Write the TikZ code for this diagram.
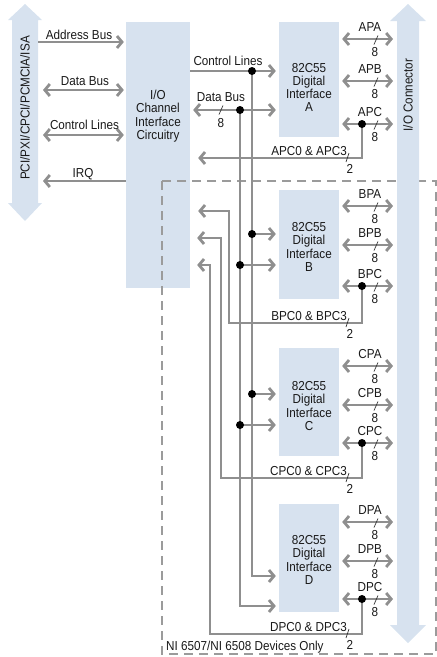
\documentclass[tikz,border=0pt]{standalone}
\usepackage{fontspec}
\setmainfont{Liberation Sans}[FakeStretch=0.9]
\usetikzlibrary{arrows.meta}

\definecolor{busblue}{HTML}{D7E2EF}
\definecolor{wiregray}{HTML}{8F8F8F}
\definecolor{dashgray}{HTML}{9B9B9B}
\newcommand{\diagfont}{\fontsize{13}{13.3}\selectfont}

\begin{document}
\begin{tikzpicture}[x=1pt,y=-1pt,font=\diagfont,text=black!90,
  barb/.tip={Straight Barb[length=5pt,width=12pt,line width=2.8pt]},
  wire/.style={draw=wiregray,line width=1.9pt},
  tor/.style={wire,-barb},
  both/.style={wire,barb-barb},
  port/.style={both,shorten <=3pt,shorten >=4pt},
  blk/.style={fill=busblue,inner sep=0pt},
  chip/.style={blk,minimum width=60pt},
  txt/.style={align=center,inner sep=0pt},
  lbl/.style={anchor=base,inner sep=0pt},
  dot/.style={circle,fill=black,inner sep=0pt,minimum size=8pt},
  tick/.style={draw=black!80,line width=0.7pt}]
  \useasboundingbox (0,0) rectangle (437,657);

  % boxes
  \node[blk,minimum width=64pt,minimum height=266pt] (ioc) at (158,155) {};
  \node[txt] (ioctxt) at (158,116) {I/O\\Channel\\Interface\\Circuitry};
  \node[chip,minimum height=115pt] (dA) at (309,79.5) {};
  \node[chip,minimum height=109pt] (dB) at (309,244.5) {};
  \node[chip,minimum height=108pt] (dC) at (309,402) {};
  \node[chip,minimum height=108pt] (dD) at (309,558) {};
  \node[txt] (dAtxt) at (309,87.5) {82C55\\Digital\\Interface\\A};
  \node[txt] (dBtxt) at (309,247) {82C55\\Digital\\Interface\\B};
  \node[txt] (dCtxt) at (309,406) {82C55\\Digital\\Interface\\C};
  \node[txt] (dDtxt) at (309,560) {82C55\\Digital\\Interface\\D};

  % optional devices
  \draw[dashgray,line width=1.6pt,dash pattern=on 9pt off 6pt] (162,181) rectangle (436,654);
  \node[lbl,anchor=base west] (optlbl) at (166,650) {NI 6507/NI 6508 Devices Only};

  % bus arrows
  \fill[busblue] (25,4) -- (42,20) -- (38,20) -- (38,203) -- (42,203) -- (25,221)
    -- (8,203) -- (12,203) -- (12,20) -- (8,20) -- cycle;
  \node[rotate=90] (hostlbl) at (25,108) {PCI/PXI/CPCI/PCMCIA/ISA};
  \fill[busblue] (408,4) -- (426,21) -- (419,21) -- (419,625) -- (426,625) -- (408,643)
    -- (390,625) -- (397,625) -- (397,21) -- (390,21) -- cycle;
  \node[rotate=90] (conlbl) at (408,95) {I/O Connector};
  \coordinate (hostE) at (38,0);
  \coordinate (conW) at (397,0);

  % host side
  \draw[tor,shorten >=2pt] (hostE |- 0,42) -- (ioc.west |- 0,42);
  \draw[both,shorten <=5pt,shorten >=2pt] (hostE |- 0,90) -- (ioc.west |- 0,90);
  \draw[both,shorten <=5pt,shorten >=2pt] (hostE |- 0,135) -- (ioc.west |- 0,135);
  \draw[tor,shorten >=5pt] (ioc.west |- 0,181) -- (hostE |- 0,181);
  \node[lbl] (adrlbl) at (79,39) {Address Bus};
  \node[lbl] (datlbl) at (85,85) {Data Bus};
  \node[lbl] (ctllbl) at (84.5,129) {Control Lines};
  \node[lbl] (irqlbl) at (83,177) {IRQ};

  % local buses
  \coordinate (cA) at (252,71);
  \coordinate (cB) at (252,234);
  \coordinate (cC) at (252,394);
  \coordinate (bA) at (240,110);
  \coordinate (bB) at (240,265);
  \coordinate (bC) at (240,425);
  \draw[tor,shorten >=3pt] (ioc.east |- cA) -- (dA.west |- cA);
  \draw[both,shorten <=3pt,shorten >=3pt] (ioc.east |- bA) -- (dA.west |- bA);
  \node[lbl] (lctl) at (228,65) {Control Lines};
  \node[lbl] (ldat) at (221,101.5) {Data Bus};
  \draw[tick] (219,114.5) -- (223,105.5);
  \node[lbl] (ndat) at (221,127) {8};
  \draw[tor,shorten >=3pt] (cA) |- (dD.west |- 0,576);
  \draw[tor,shorten >=3pt] (bA) |- (dD.west |- 0,606);
  \draw[tor,shorten >=3pt] (cB) -- (dB.west |- cB);
  \draw[tor,shorten >=3pt] (bB) -- (dB.west |- bB);
  \draw[tor,shorten >=3pt] (cC) -- (dC.west |- cC);
  \draw[tor,shorten >=3pt] (bC) -- (dC.west |- bC);

  % port C taps
  \coordinate (pA) at (362,124);
  \coordinate (pB) at (362,286);
  \coordinate (pC) at (362,443);
  \coordinate (pD) at (362,599);
  \draw[tor,shorten >=8pt] (pA) |- (ioc.east |- 0,158);
  \draw[tor,shorten >=8pt] (pB) |- (229,323) |- (ioc.east |- 0,211);
  \draw[tor,shorten >=7pt] (pC) |- (221,478) |- (ioc.east |- 0,238);
  \draw[tor,shorten >=7pt] (pD) |- (210,634) |- (ioc.east |- 0,265);
  \node[lbl,anchor=base east] (lApc) at (347,155) {APC0 \& APC3};
  \node[lbl,anchor=base east] (lBpc) at (347,320) {BPC0 \& BPC3};
  \node[lbl,anchor=base east] (lCpc) at (347,475) {CPC0 \& CPC3};
  \node[lbl,anchor=base east] (lDpc) at (347,631) {DPC0 \& DPC3};
  \draw[tick] (346,162) -- (349,153);
  \draw[tick] (346,327) -- (349,318);
  \draw[tick] (346,482) -- (349,473);
  \draw[tick] (346,638) -- (349,629);
  \node[lbl] (nApc) at (350,173) {2};
  \node[lbl] (nBpc) at (350,338) {2};
  \node[lbl] (nCpc) at (350,493) {2};
  \node[lbl] (nDpc) at (350,649) {2};

  % ports A
  \draw[port] (dA.east |- 0,39) -- (conW |- 0,39);
  \draw[port] (dA.east |- 0,81) -- (conW |- 0,81);
  \draw[port] (dA.east |- pA) -- (conW |- pA);
  \node[lbl] (lApa) at (370,31.5) {APA};
  \node[lbl] (lApb) at (370,73.5) {APB};
  \node[lbl] (lApcp) at (370,116.5) {APC};
  \draw[tick] (374,44.5) -- (378,35.5);
  \draw[tick] (374,86.5) -- (378,77.5);
  \draw[tick] (374,129.5) -- (378,120.5);
  \node[lbl] (nApa) at (375,56) {8};
  \node[lbl] (nApb) at (375,98) {8};
  \node[lbl] (nApcp) at (375,141) {8};

  % ports B
  \draw[port] (dB.east |- 0,206) -- (conW |- 0,206);
  \draw[port] (dB.east |- 0,245) -- (conW |- 0,245);
  \draw[port] (dB.east |- pB) -- (conW |- pB);
  \node[lbl] (lBpa) at (370,198.5) {BPA};
  \node[lbl] (lBpb) at (370,237.5) {BPB};
  \node[lbl] (lBpcp) at (370,278.5) {BPC};
  \draw[tick] (374,211.5) -- (378,202.5);
  \draw[tick] (374,250.5) -- (378,241.5);
  \draw[tick] (374,291.5) -- (378,282.5);
  \node[lbl] (nBpa) at (375,223) {8};
  \node[lbl] (nBpb) at (375,262) {8};
  \node[lbl] (nBpcp) at (375,303) {8};

  % ports C
  \draw[port] (dC.east |- 0,366) -- (conW |- 0,366);
  \draw[port] (dC.east |- 0,405) -- (conW |- 0,405);
  \draw[port] (dC.east |- pC) -- (conW |- pC);
  \node[lbl] (lCpa) at (370,358.5) {CPA};
  \node[lbl] (lCpb) at (370,397.5) {CPB};
  \node[lbl] (lCpcp) at (370,435.5) {CPC};
  \draw[tick] (374,371.5) -- (378,362.5);
  \draw[tick] (374,410.5) -- (378,401.5);
  \draw[tick] (374,448.5) -- (378,439.5);
  \node[lbl] (nCpa) at (375,383) {8};
  \node[lbl] (nCpb) at (375,422) {8};
  \node[lbl] (nCpcp) at (375,460) {8};

  % ports D
  \draw[port] (dD.east |- 0,522) -- (conW |- 0,522);
  \draw[port] (dD.east |- 0,561) -- (conW |- 0,561);
  \draw[port] (dD.east |- pD) -- (conW |- pD);
  \node[lbl] (lDpa) at (370,514.5) {DPA};
  \node[lbl] (lDpb) at (370,553.5) {DPB};
  \node[lbl] (lDpcp) at (370,591.5) {DPC};
  \draw[tick] (374,527.5) -- (378,518.5);
  \draw[tick] (374,566.5) -- (378,557.5);
  \draw[tick] (374,604.5) -- (378,595.5);
  \node[lbl] (nDpa) at (375,539) {8};
  \node[lbl] (nDpb) at (375,578) {8};
  \node[lbl] (nDpcp) at (375,616) {8};

  % junction dots
  \node[dot] (cAd) at (cA) {};
  \node[dot] (cBd) at (cB) {};
  \node[dot] (cCd) at (cC) {};
  \node[dot] (bAd) at (bA) {};
  \node[dot] (bBd) at (bB) {};
  \node[dot] (bCd) at (bC) {};
  \node[dot] (pAd) at (pA) {};
  \node[dot] (pBd) at (pB) {};
  \node[dot] (pCd) at (pC) {};
  \node[dot] (pDd) at (pD) {};
\end{tikzpicture}
\end{document}
